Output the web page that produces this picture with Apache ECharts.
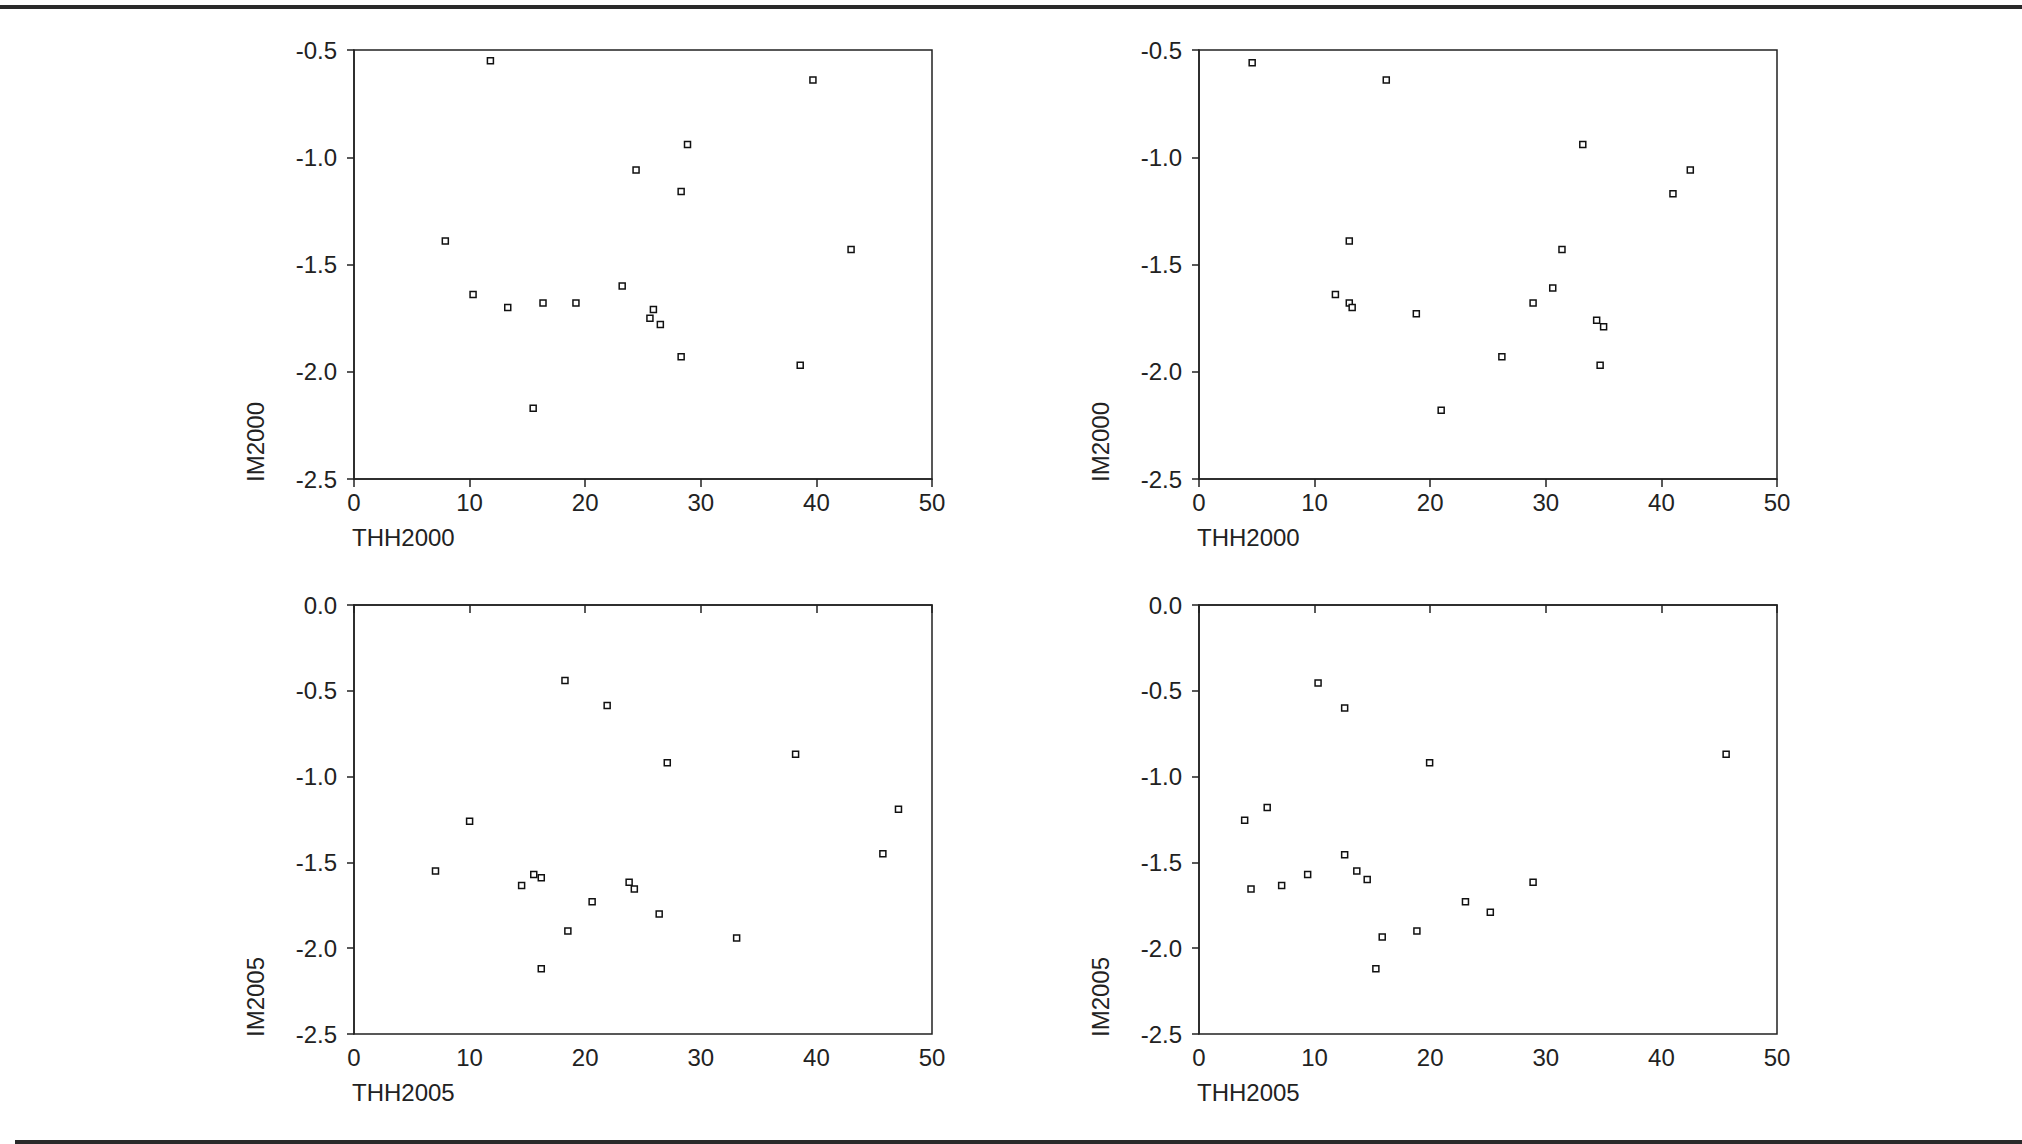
<!DOCTYPE html>
<html lang="en">
<head>
    <meta charset="UTF-8">
    <title>IM vs THH scatter panels</title>
    <style>
        html, body {
            margin: 0;
            padding: 0;
            background: #fff;
        }
        #chart {
            width: 2022px;
            height: 1144px;
        }
    </style>
    <script src="https://cdn.jsdelivr.net/npm/echarts@6/dist/echarts.min.js"></script>
</head>
<body>
<div id="chart"></div>
<script>
    // Values
    var thh2000A = [11.8, 39.7, 28.85, 24.4, 28.3, 7.9, 43.0, 23.2, 10.3, 13.3, 16.35, 19.2, 25.9, 25.6, 26.5, 28.3, 38.6, 15.5];
    var im2000A  = [-0.55, -0.64, -0.94, -1.06, -1.16, -1.39, -1.43, -1.60, -1.64, -1.70, -1.68, -1.68, -1.71, -1.75, -1.78, -1.93, -1.97, -2.17];

    var thh2000B = [4.6, 16.2, 33.2, 42.5, 41.0, 13.0, 31.4, 30.6, 11.8, 28.9, 13.0, 13.25, 18.8, 34.4, 35.0, 26.2, 34.7, 20.95];
    var im2000B  = [-0.56, -0.64, -0.94, -1.06, -1.17, -1.39, -1.43, -1.61, -1.64, -1.68, -1.68, -1.70, -1.73, -1.76, -1.79, -1.93, -1.97, -2.18];

    var thh2005A = [18.25, 21.9, 27.1, 38.2, 10.0, 47.1, 45.75, 7.05, 15.55, 16.2, 14.5, 23.8, 24.25, 20.6, 26.4, 18.5, 33.1, 16.2];
    var im2005A  = [-0.44, -0.585, -0.92, -0.87, -1.26, -1.19, -1.45, -1.55, -1.57, -1.59, -1.635, -1.615, -1.655, -1.73, -1.80, -1.90, -1.94, -2.12];

    var thh2005B = [10.3, 12.6, 19.95, 45.6, 3.95, 5.9, 12.6, 13.65, 9.4, 14.55, 4.5, 7.15, 28.9, 23.05, 25.2, 18.85, 15.85, 15.3];
    var im2005B  = [-0.455, -0.60, -0.92, -0.87, -1.255, -1.18, -1.455, -1.55, -1.57, -1.60, -1.655, -1.635, -1.615, -1.73, -1.79, -1.90, -1.935, -2.12];

    var xTicks = [0, 10, 20, 30, 40, 50];
    var yRangeTop = [-2.5, -0.5];
    var yRangeBottom = [-2.5, 0.0];

    var panels = [
        { xs: thh2000A, ys: im2000A, yr: yRangeTop, xName: 'THH2000', yName: 'IM2000', left: 354, top: 50 },
        { xs: thh2000B, ys: im2000B, yr: yRangeTop, xName: 'THH2000', yName: 'IM2000', left: 1199, top: 50 },
        { xs: thh2005A, ys: im2005A, yr: yRangeBottom, xName: 'THH2005', yName: 'IM2005', left: 354, top: 605 },
        { xs: thh2005B, ys: im2005B, yr: yRangeBottom, xName: 'THH2005', yName: 'IM2005', left: 1199, top: 605 }
    ];

    var W = 578, H = 429;
    var ink = '#222';
    var font = "'Liberation Sans', Arial, sans-serif";
    var fs = 24;

    var grids = [], xAxes = [], yAxes = [], series = [], graphics = [];

    // horizontal rules above and below the figure
    graphics.push({ type: 'line', shape: { x1: 0, y1: 7, x2: 2022, y2: 7 }, style: { stroke: '#2a2a2a', lineWidth: 4 } });
    graphics.push({ type: 'line', shape: { x1: 15, y1: 1142, x2: 2022, y2: 1142 }, style: { stroke: '#2a2a2a', lineWidth: 4 } });

    panels.forEach(function (p, i) {
        grids.push({
            left: p.left, top: p.top, width: W, height: H,
            show: true, borderColor: ink, borderWidth: 1.5, backgroundColor: 'transparent'
        });
        xAxes.push({
            gridIndex: i, type: 'value',
            min: xTicks[0], max: xTicks[xTicks.length - 1], interval: 10,
            axisLine: { show: true, lineStyle: { color: ink, width: 1.5 } },
            axisTick: { show: true, inside: false, length: 8, lineStyle: { color: ink, width: 1.5 } },
            axisLabel: { color: ink, fontSize: fs, fontFamily: font, margin: 11 },
            splitLine: { show: false }
        });
        yAxes.push({
            gridIndex: i, type: 'value',
            min: p.yr[0], max: p.yr[1], interval: 0.5,
            axisLine: { show: true, onZero: false, lineStyle: { color: ink, width: 1.5 } },
            axisTick: { show: true, inside: false, length: 7, lineStyle: { color: ink, width: 1.5 } },
            axisLabel: {
                color: ink, fontSize: fs, fontFamily: font, margin: 17,
                formatter: function (v) { return v.toFixed(1); }
            },
            splitLine: { show: false }
        });
        series.push({
            type: 'scatter',
            xAxisIndex: i, yAxisIndex: i,
            data: p.xs.map(function (x, k) { return [x, p.ys[k]]; }),
            symbol: 'rect',
            symbolSize: 6,
            itemStyle: { color: '#fff', borderColor: '#111', borderWidth: 1.5, opacity: 1 }
        });
        // axis names
        graphics.push({
            type: 'text', x: p.left - 2, y: p.top + H + 46,
            style: { text: p.xName, fill: ink, font: fs + 'px ' + font, textAlign: 'left', textVerticalAlign: 'top' }
        });
        graphics.push({
            type: 'text', x: p.left - 99, y: p.top + H + 3, rotation: Math.PI / 2,
            style: { text: p.yName, fill: ink, font: fs + 'px ' + font, textAlign: 'left', textVerticalAlign: 'middle' }
        });
    });

    var chart = echarts.init(document.getElementById('chart'), null, { renderer: 'svg' });
    chart.setOption({
        animation: false,
        backgroundColor: '#fff',
        grid: grids,
        xAxis: xAxes,
        yAxis: yAxes,
        series: series,
        graphic: graphics
    });
</script>
</body>
</html>
